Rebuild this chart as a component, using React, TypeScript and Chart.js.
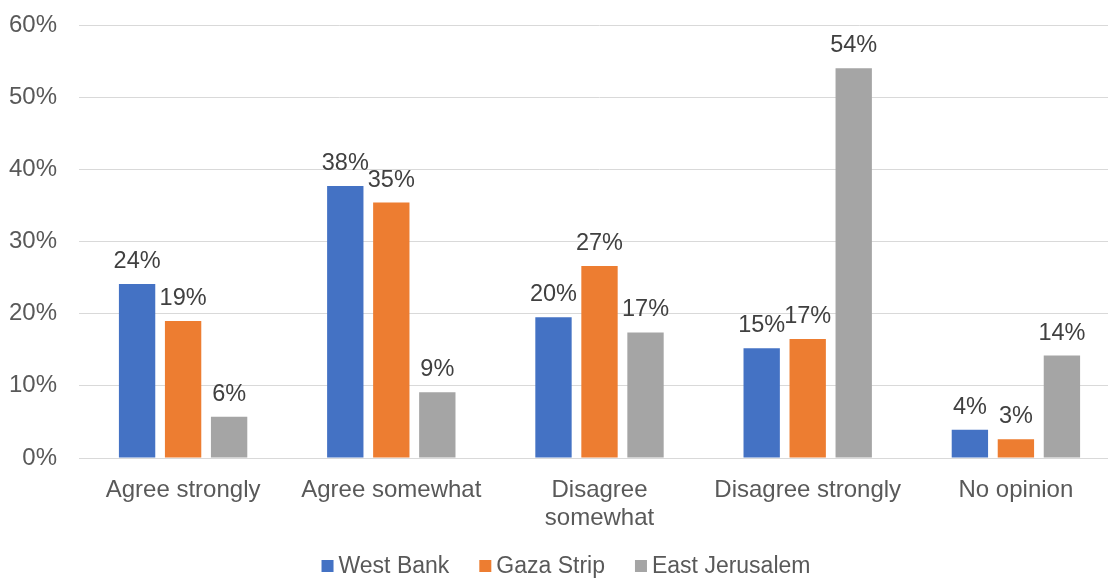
import React, { useEffect, useRef } from "react";
import { Chart, registerables } from "chart.js";

Chart.register(...registerables);

const categories: (string | string[])[] = [
  "Agree strongly",
  "Agree somewhat",
  ["Disagree", "somewhat"],
  "Disagree strongly",
  "No opinion",
];
const seriesNames = ["West Bank", "Gaza Strip", "East Jerusalem"];
const westBank = [24.1, 37.7, 19.5, 15.2, 3.9];
const gazaStrip = [19.0, 35.4, 26.6, 16.5, 2.6];
const eastJerusalem = [5.7, 9.1, 17.4, 54.0, 14.2];
const seriesColors = ["#4472c4", "#ed7d31", "#a5a5a5"];
const yTicks = [0, 10, 20, 30, 40, 50, 60];

const FONT = "'Liberation Sans', Arial, sans-serif";

const dataLabels = {
  id: "dataLabels",
  afterDatasetsDraw(chart: any) {
    const ctx = chart.ctx;
    ctx.save();
    ctx.font = `23.5px ${FONT}`;
    ctx.fillStyle = "#404040";
    ctx.textAlign = "center";
    ctx.textBaseline = "alphabetic";
    chart.data.datasets.forEach((ds: any, i: number) => {
      const meta = chart.getDatasetMeta(i);
      meta.data.forEach((bar: any, j: number) => {
        const v = ds.data[j];
        ctx.fillText(Math.round(v) + "%", bar.x, bar.y - 16);
      });
    });
    ctx.restore();
  },
};

const bottomLegend = {
  id: "bottomLegend",
  afterDraw(chart: any) {
    const ctx = chart.ctx;
    ctx.save();
    ctx.font = `23px ${FONT}`;
    ctx.textBaseline = "middle";
    ctx.textAlign = "left";
    const box = 12;
    const boxGap = 5;
    const itemGap = 30;
    const cy = 566;
    const cx = 566;
    const items = chart.data.datasets.map((ds: any) => ({
      label: ds.label,
      color: ds.backgroundColor,
      w: ctx.measureText(ds.label).width,
    }));
    const total =
      items.reduce((a: number, it: any) => a + box + boxGap + it.w, 0) +
      itemGap * (items.length - 1);
    let x = cx - total / 2;
    items.forEach((it: any) => {
      ctx.fillStyle = it.color;
      ctx.fillRect(x, cy - box / 2, box, box);
      ctx.fillStyle = "#595959";
      ctx.fillText(it.label, x + box + boxGap, cy + 1);
      x += box + boxGap + it.w + itemGap;
    });
    ctx.restore();
  },
};

export default function App() {
  const ref = useRef<HTMLCanvasElement>(null);
  useEffect(() => {
    document.body.style.margin = "0";
    const chart = new Chart(ref.current!, {
      type: "bar",
      data: {
        labels: categories,
        datasets: [
          { label: seriesNames[0], data: westBank, backgroundColor: seriesColors[0] },
          { label: seriesNames[1], data: gazaStrip, backgroundColor: seriesColors[1] },
          { label: seriesNames[2], data: eastJerusalem, backgroundColor: seriesColors[2] },
        ],
      },
      options: {
        animation: false,
        responsive: false,
        maintainAspectRatio: false,
        datasets: { bar: { categoryPercentage: 0.663, barPercentage: 0.79 } },
        layout: { padding: { top: 0, right: 0, left: 0, bottom: 43 } },
        plugins: {
          tooltip: { enabled: false },
          legend: { display: false },
        },
        scales: {
          x: {
            grid: { display: false },
            border: { display: true, color: "#d9d9d9" },
            ticks: {
              font: { size: 24, family: FONT, lineHeight: 1.15 },
              color: "#595959",
              padding: 11,
              maxRotation: 0,
              autoSkip: false,
            },
            afterFit: (s: any) => {
              s.height = 80;
            },
          },
          y: {
            min: 0,
            max: 60,
            afterBuildTicks: (s: any) => {
              s.ticks = yTicks.map((v) => ({ value: v }));
            },
            grid: { color: "#d9d9d9", drawTicks: false },
            border: { display: false },
            ticks: {
              font: { size: 24, family: FONT },
              color: "#595959",
              padding: 22,
              callback: (v: any) => v + "%",
            },
            afterFit: (s: any) => {
              s.width = 79;
              s.paddingTop = 25;
              s.paddingBottom = 0;
            },
          },
        },
      },
      plugins: [dataLabels, bottomLegend],
    });
    return () => chart.destroy();
  }, []);
  return (
    <div style={{ position: "absolute", left: 0, top: 0, width: 1108, height: 581, overflow: "hidden" }}>
      <canvas ref={ref} width={1120} height={581} style={{ display: "block" }} />
    </div>
  );
}
